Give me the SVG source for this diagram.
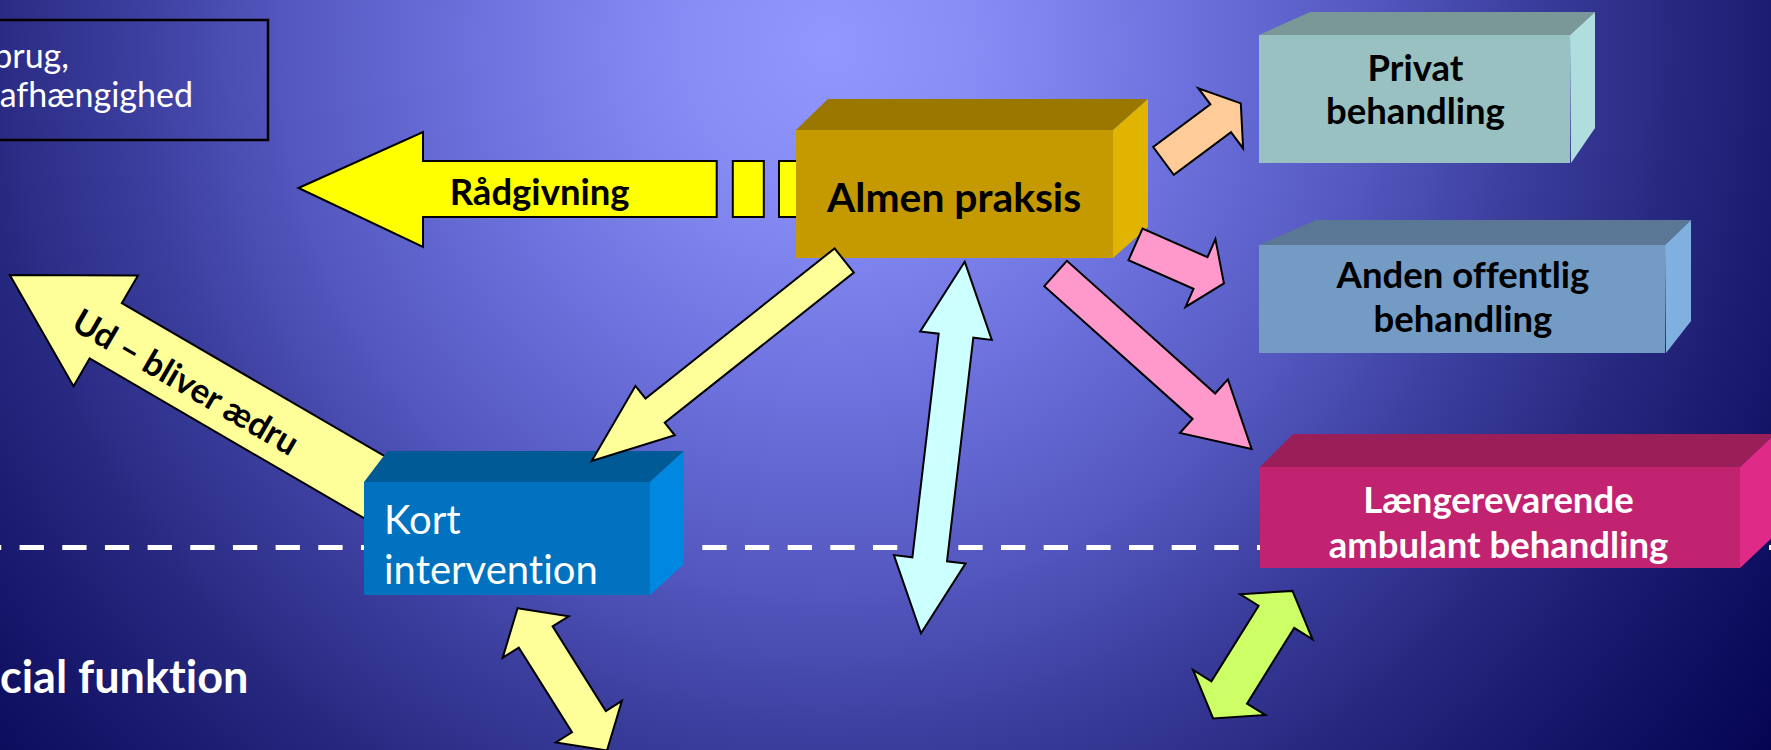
<svg xmlns="http://www.w3.org/2000/svg" width="1771" height="750" viewBox="0 0 1771 750">
  <defs>
    <radialGradient id="bg" gradientUnits="userSpaceOnUse" cx="830" cy="45" r="1200">
      <stop offset="0" stop-color="#9297ff"/>
      <stop offset="0.125" stop-color="#878cf5"/>
      <stop offset="0.29" stop-color="#6e72de"/>
      <stop offset="0.46" stop-color="#5256bd"/>
      <stop offset="0.58" stop-color="#3c3e9e"/>
      <stop offset="0.71" stop-color="#26287f"/>
      <stop offset="0.83" stop-color="#16166a"/>
      <stop offset="1" stop-color="#020250"/>
    </radialGradient>
    <!-- everything except the two boxes that sit in front of arrow ends -->
    <clipPath id="behind-boxes">
      <path clip-rule="evenodd" d="M-20 -20H1800V780H-20Z M796 130L828 99H1148V227L1113 258H796Z M364 482L387.5 451H684V564L650 595H364Z"/>
    </clipPath>
    <style>
      .lbl { font-family: Lato, "Open Sans", "Liberation Sans", sans-serif; font-variant-ligatures: none; font-feature-settings: "liga" 0, "clig" 0; }
      .b { font-weight: 700; }
      .dark { fill: #000000; }
      .light { fill: #ffffff; }
      .arrow { stroke: #000000; stroke-width: 2; stroke-linejoin: miter; }
      .face { stroke: none; }
    </style>
  </defs>

  <rect x="0" y="0" width="1771" height="750" fill="url(#bg)"/>

  <!-- dashed divider -->
  <line x1="0" y1="547.5" x2="1771" y2="547.5" stroke="#ffffff" stroke-width="5" stroke-dasharray="24.3 18.37" stroke-dashoffset="23.07"/>

  <!-- note box, partly off the left edge -->
  <g id="note">
    <rect x="-10" y="20" width="278" height="120" fill="none" stroke="#000000" stroke-width="2.5"/>
    <text class="lbl light" x="69" y="68" font-size="34" text-anchor="end">brug,</text>
    <text class="lbl light" x="193" y="107" font-size="34" text-anchor="end">afhængighed</text>
  </g>

  <g id="node-almen">
    <polygon class="face" points="796,130 828,99 1148,99 1113,130" fill="#9a7800"/>
    <polygon class="face" points="1113,130 1148,99 1148,227 1113,258" fill="#e0b400"/>
    <rect class="face" x="796" y="130" width="317" height="128" fill="#c49a00"/>
    <text class="lbl b dark" x="827" y="211.5" font-size="40.8">Almen praksis</text>
  </g>

  <g id="node-privat">
    <polygon class="face" points="1259,35 1310,12 1595,12 1570,35" fill="#7a9898"/>
    <polygon class="face" points="1570,35 1595,12 1595,128 1571,163" fill="#b0dede"/>
    <rect class="face" x="1259" y="35" width="311" height="128" fill="#99c1c1"/>
    <text class="lbl b dark" x="1415.5" y="80.7" font-size="36.5" text-anchor="middle">Privat</text>
    <text class="lbl b dark" x="1415.5" y="124" font-size="36.5" text-anchor="middle">behandling</text>
  </g>

  <g id="node-anden">
    <polygon class="face" points="1259,245 1316,220 1691,220 1665,245" fill="#5a7896"/>
    <polygon class="face" points="1665,245 1691,220 1691,321 1666,353" fill="#80b0e0"/>
    <rect class="face" x="1259" y="245" width="406" height="108" fill="#739bc4"/>
    <text class="lbl b dark" x="1463" y="288.3" font-size="36.5" text-anchor="middle">Anden offentlig</text>
    <text class="lbl b dark" x="1463" y="331.7" font-size="36.5" text-anchor="middle">behandling</text>
  </g>

  <g id="node-laengere">
    <polygon class="face" points="1260,467 1293,434 1775,434 1740,467" fill="#9a1e58"/>
    <polygon class="face" points="1740,467 1775,434 1775,535 1740,568" fill="#e02a88"/>
    <rect class="face" x="1260" y="467" width="480" height="101" fill="#c22370"/>
    <text class="lbl b light" x="1498.5" y="512.7" font-size="36.5" text-anchor="middle">Længerevarende</text>
    <text class="lbl b light" x="1498.5" y="557.5" font-size="36.5" text-anchor="middle">ambulant behandling</text>
  </g>

  <g id="node-kort">
    <polygon class="face" points="364,482 387.5,451 684,451 650,482" fill="#005a96"/>
    <polygon class="face" points="650,482 684,451 684,564 650,595" fill="#0088e0"/>
    <rect class="face" x="364" y="482" width="286" height="113" fill="#0072c0"/>
    <text class="lbl light" x="384" y="534" font-size="40">Kort</text>
    <text class="lbl light" x="384" y="584" font-size="40">intervention</text>
  </g>

  <g id="label-social">
    <text class="lbl b light" x="0" y="693" font-size="45">cial funktion</text>
  </g>

  <g id="connectors">
    <!-- Almen praksis -> left, Rådgivning -->
    <g clip-path="url(#behind-boxes)">
      <polygon class="arrow" fill="#ffff00" points="298.5,188 423,132 423,161 716.7,161 716.7,217 423,217 423,247"/>
      <rect class="arrow" fill="#ffff00" x="732.8" y="161" width="31" height="56"/>
      <rect class="arrow" fill="#ffff00" x="779" y="161" width="25" height="56"/>
    </g>
    <text class="lbl b dark" x="449.7" y="205" font-size="36.5">Rådgivning</text>

    <!-- Kort intervention -> out, Ud – bliver ædru -->
    <g clip-path="url(#behind-boxes)">
      <polygon class="arrow" fill="#ffff99" transform="translate(9.8 275) rotate(30.2)" points="0,0 111,-64 111,-32 431,-32 431,32 111,32 111,64"/>
    </g>
    <text class="lbl b dark" transform="translate(9.8 275) rotate(30.2)" x="206" y="16" font-size="34.5" text-anchor="middle">Ud – bliver ædru</text>

    <!-- Almen praksis -> Kort intervention -->
    <polygon class="arrow" fill="#ffff99" points="591.7,461 635.4,385.9 645.5,398.5 834.6,248.4 853.8,272.6 664.7,422.7 674.8,435.3"/>

    <!-- Almen praksis <-> below the line -->
    <polygon class="arrow" fill="#ccffff" points="964.7,261.7 991.8,339.9 973.3,337.7 947,561.3 965.5,563.5 921,633.3 893.9,555.1 912.4,557.3 938.7,333.7 920.2,331.5"/>

    <!-- Almen praksis -> Privat behandling -->
    <polygon class="arrow" fill="#ffcc99" points="1240.8,103.4 1243.1,148.4 1231,132.2 1173.8,174.8 1153.2,147 1210.4,104.4 1198.3,88.2"/>

    <!-- Almen praksis -> Anden offentlig behandling -->
    <polygon class="arrow" fill="#ff99cc" points="1223.9,283.3 1185.6,306.9 1193.5,288.8 1128.5,260.2 1142.5,228.6 1207.5,257.2 1215.4,239.1"/>

    <!-- Almen praksis -> Længerevarende ambulant behandling -->
    <polygon class="arrow" fill="#ff99cc" points="1251.6,448.9 1179.9,433 1192.6,418.9 1044.3,286.2 1066.9,260.8 1215.2,393.5 1227.9,379.4"/>

    <!-- Kort intervention <-> below -->
    <polygon class="arrow" fill="#ffff99" points="517.6,608.2 568.7,616.3 552.6,626.4 605.8,711.1 621.9,700.9 607,750.5 555.9,742.5 572,732.3 518.8,647.6 502.7,657.7"/>

    <!-- Længerevarende <-> below -->
    <polygon class="arrow" fill="#ccff66" points="1292.5,590.9 1312.5,639.3 1294.2,627.9 1247,703.6 1265.3,715 1213.1,718.4 1193.1,670 1211.4,681.4 1258.6,605.7 1240.3,594.3"/>
  </g>
</svg>
